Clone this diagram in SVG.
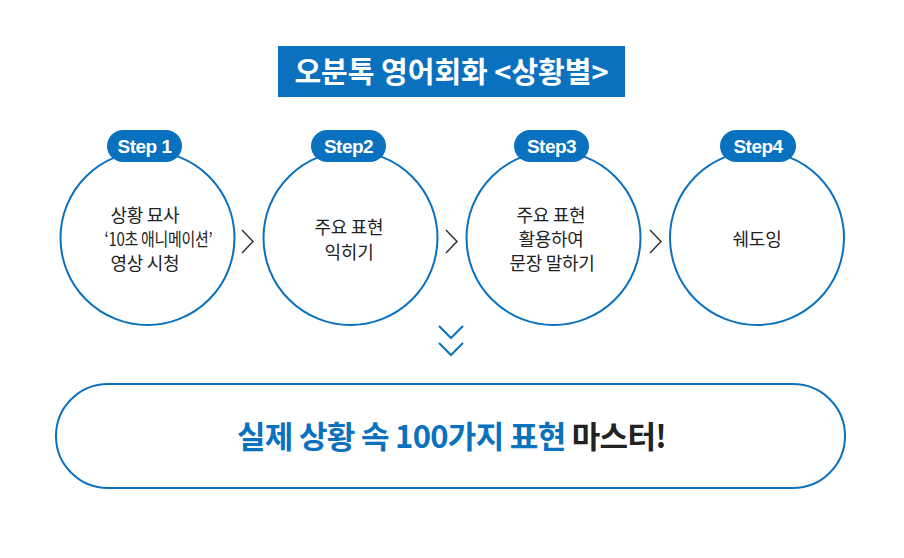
<svg xmlns="http://www.w3.org/2000/svg" width="904" height="558" viewBox="0 0 904 558">
<style>
.ring{fill:#fff;stroke:#0a71bf;stroke-width:2}
.badge{fill:#0a71bf}
.bt{font-family:"Liberation Sans",Arial,sans-serif;font-weight:bold;font-size:19px;fill:#fff;text-anchor:middle;letter-spacing:-0.5px}
.st{font-family:"Noto Sans CJK KR","Noto Sans",sans-serif;font-size:18px;fill:#222;text-anchor:middle;letter-spacing:-0.3px}
.chev{fill:none;stroke:#333;stroke-width:1.5}
.down{fill:none;stroke:#0a71bf;stroke-width:2}
</style>
<rect width="904" height="558" fill="#fff"/>
<g id="title">
<rect x="278" y="46" width="347" height="51" fill="#0a71bf"/>
<text x="451.5" y="83" font-family="'Noto Sans CJK KR',sans-serif" font-weight="bold" font-size="29" fill="#fff" text-anchor="middle">오분톡 영어회화 &lt;상황별&gt;</text>
</g>
<g id="step1">
<circle class="ring" cx="147.5" cy="238" r="87"/>
<rect class="badge" x="107" y="130" width="75" height="32" rx="16"/>
<text class="bt" x="144.5" y="153">Step 1</text>
<text class="st" x="145" y="221.5">상황 묘사</text>
<text class="st" x="158.5" y="245.5" textLength="108" lengthAdjust="spacingAndGlyphs">‘10초 애니메이션’</text>
<text class="st" x="145" y="269.5">영상 시청</text>
</g>
<g id="step2">
<circle class="ring" cx="350.5" cy="238" r="87"/>
<rect class="badge" x="311" y="130" width="75" height="32" rx="16"/>
<text class="bt" x="348.5" y="153">Step2</text>
<text class="st" x="349" y="233.5">주요 표현</text>
<text class="st" x="349" y="258.5">익히기</text>
</g>
<g id="step3">
<circle class="ring" cx="553.5" cy="238" r="87"/>
<rect class="badge" x="514" y="130" width="75" height="32" rx="16"/>
<text class="bt" x="551.5" y="153">Step3</text>
<text class="st" x="551" y="221.5">주요 표현</text>
<text class="st" x="551" y="245.5">활용하여</text>
<text class="st" x="552" y="269.5">문장 말하기</text>
</g>
<g id="step4">
<circle class="ring" cx="757" cy="238" r="87"/>
<rect class="badge" x="720" y="130" width="76" height="32" rx="16"/>
<text class="bt" x="758" y="153">Step4</text>
<text class="st" x="757" y="246">쉐도잉</text>
</g>
<g id="connectors">
<polyline class="chev" points="242,230 253,241.5 242,253"/>
<polyline class="chev" points="446,230 457,241.5 446,253"/>
<polyline class="chev" points="650,230 661,241.5 650,253"/>
<polyline class="down" points="439,326 451,338 463,326"/>
<polyline class="down" points="439,343 451,355 463,343"/>
</g>
<g id="result">
<rect x="56" y="384" width="789" height="104" rx="52" fill="#fff" stroke="#0a71bf" stroke-width="2"/>
<text x="451.5" y="448" font-family="'Noto Sans CJK KR',sans-serif" font-weight="bold" font-size="31" text-anchor="middle" letter-spacing="-0.7"><tspan fill="#0a71bf">실제 상황 속 100가지 표현 </tspan><tspan fill="#222">마스터!</tspan></text>
</g>
</svg>
